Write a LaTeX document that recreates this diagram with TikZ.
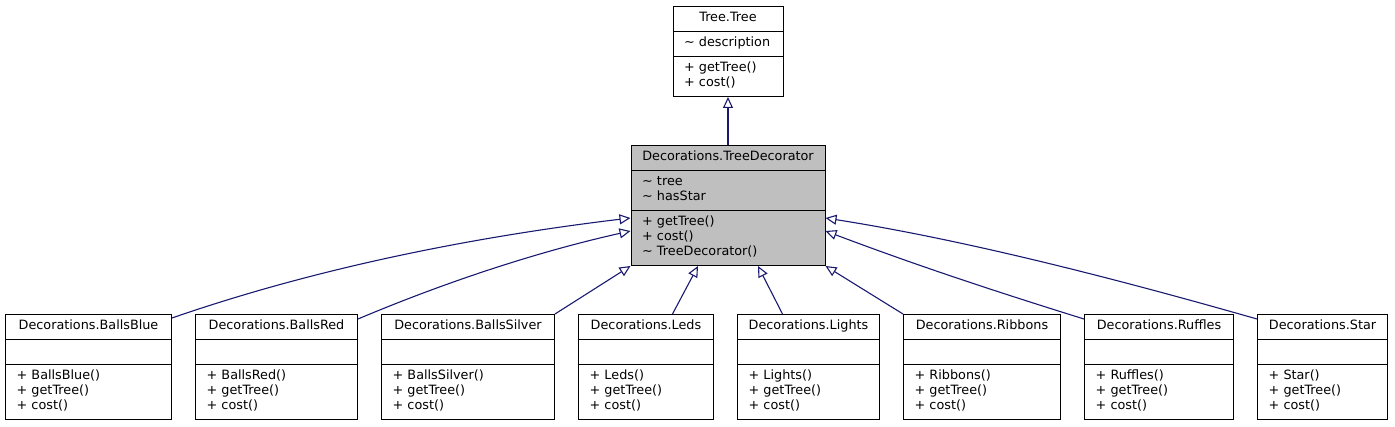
\documentclass[tikz,border=0pt]{standalone}
\usepackage{fontspec}
\setmainfont{DejaVu Sans}
\usepackage{xcolor}
\definecolor{Edge}{HTML}{191970}
\definecolor{Shade}{HTML}{BFBFBF}
\usetikzlibrary{arrows.meta,positioning,shapes.multipart}
\tikzset{
  umlclass/.style={rectangle split,rectangle split parts=3,draw=black,line width=1pt,
    fill=white,inner xsep=11pt,inner ysep=4.5pt,text width=#1,align=left,
    font=\fontsize{12.8}{15}\selectfont},
  extends/.style={-{Triangle[open,length=11pt,width=10pt]},line width=1.1pt,draw=Edge}
}
\newcommand{\ctitle}[1]{\makebox[\hsize][c]{\strut#1}}

\begin{document}
\begin{tikzpicture}[x=1pt,y=-1pt,node distance=23pt]
  \useasboundingbox (0,0) rectangle (1395,427);
  \node[umlclass=88pt, anchor=north] (tree) at (728,6)
    {\ctitle{Tree.Tree}
     \nodepart{two}\strut\textasciitilde\ description
     \nodepart{three}\strut+ getTree()\\\strut+ cost()};
  \node[umlclass=172pt, fill=Shade, below=48pt of tree] (deco)
    {\ctitle{Decorations.TreeDecorator}
     \nodepart{two}\strut\textasciitilde\ tree\\\strut\textasciitilde\ hasStar
     \nodepart{three}\strut+ getTree()\\\strut+ cost()\\\strut\textasciitilde\ TreeDecorator()};
  \node[umlclass=144pt, anchor=north west] (blue) at (5,314)
    {\ctitle{Decorations.BallsBlue}
     \nodepart{two}\strut
     \nodepart{three}\strut+ BallsBlue()\\\strut+ getTree()\\\strut+ cost()};
  \node[umlclass=140pt, right=of blue] (red)
    {\ctitle{Decorations.BallsRed}
     \nodepart{two}\strut
     \nodepart{three}\strut+ BallsRed()\\\strut+ getTree()\\\strut+ cost()};
  \node[umlclass=151pt, right=of red] (silver)
    {\ctitle{Decorations.BallsSilver}
     \nodepart{two}\strut
     \nodepart{three}\strut+ BallsSilver()\\\strut+ getTree()\\\strut+ cost()};
  \node[umlclass=113pt, right=of silver] (leds)
    {\ctitle{Decorations.Leds}
     \nodepart{two}\strut
     \nodepart{three}\strut+ Leds()\\\strut+ getTree()\\\strut+ cost()};
  \node[umlclass=120pt, right=of leds] (lights)
    {\ctitle{Decorations.Lights}
     \nodepart{two}\strut
     \nodepart{three}\strut+ Lights()\\\strut+ getTree()\\\strut+ cost()};
  \node[umlclass=135pt, right=of lights] (ribbons)
    {\ctitle{Decorations.Ribbons}
     \nodepart{two}\strut
     \nodepart{three}\strut+ Ribbons()\\\strut+ getTree()\\\strut+ cost()};
  \node[umlclass=127pt, right=of ribbons] (ruffles)
    {\ctitle{Decorations.Ruffles}
     \nodepart{two}\strut
     \nodepart{three}\strut+ Ruffles()\\\strut+ getTree()\\\strut+ cost()};
  \node[umlclass=108pt, right=of ruffles] (star)
    {\ctitle{Decorations.Star}
     \nodepart{two}\strut
     \nodepart{three}\strut+ Star()\\\strut+ getTree()\\\strut+ cost()};
  \draw[extends] (deco.north) -- (tree.south);
  \draw[extends] ([yshift=-4pt]blue.north east) .. controls +(150,-52) and +(-150,18) .. ([yshift=48pt]deco.south west);
  \draw[extends] ([yshift=-5pt]red.north east) .. controls +(90,-38) and +(-90,20) .. ([yshift=35pt]deco.south west);
  \draw[extends] (silver.north east) -- (deco.south west);
  \draw[extends] ([xshift=26.5pt]leds.north) -- ([xshift=-30pt]deco.south);
  \draw[extends] ([xshift=-26pt]lights.north) -- ([xshift=30pt]deco.south);
  \draw[extends] (ribbons.north west) -- (deco.south east);
  \draw[extends] ([yshift=-5pt]ruffles.north west) .. controls +(-90,-28) and +(90,34) .. ([yshift=35pt]deco.south east);
  \draw[extends] ([yshift=-5pt]star.north west) .. controls +(-140,-40) and +(140,22) .. ([yshift=48pt]deco.south east);
\end{tikzpicture}
\end{document}
